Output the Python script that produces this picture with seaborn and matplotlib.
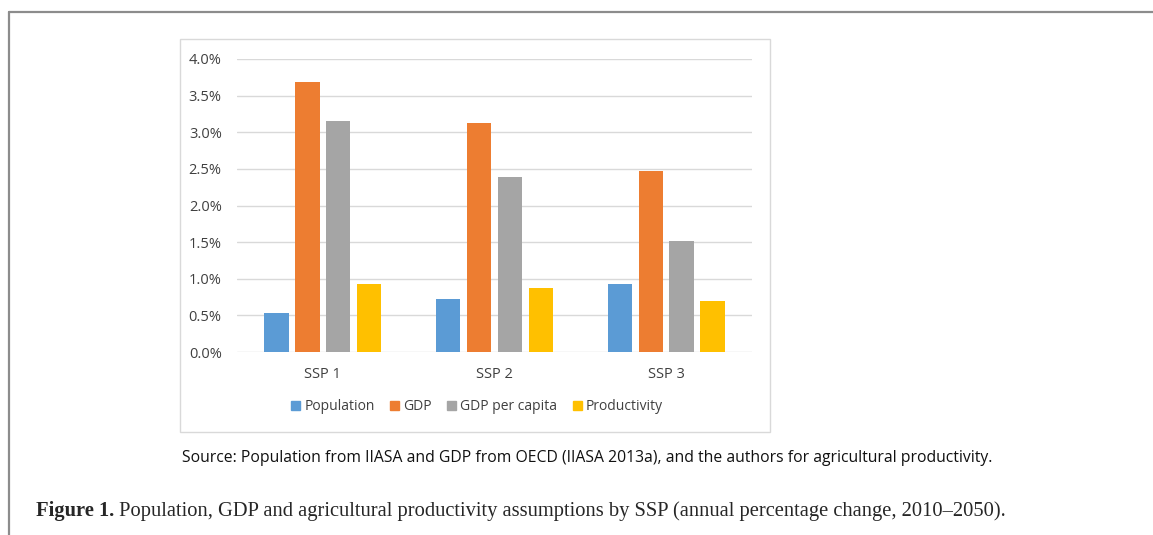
import pandas as pd
import numpy as np
from matplotlib import pyplot as plt
from matplotlib.patches import Rectangle
from matplotlib.lines import Line2D
from matplotlib.ticker import PercentFormatter
import seaborn as sns

scenarios = ['SSP 1', 'SSP 2', 'SSP 3']
series = ['Population', 'GDP', 'GDP per capita', 'Productivity']
population = [0.53, 0.73, 0.93]
gdp = [3.69, 3.13, 2.47]
gdp_per_capita = [3.16, 2.39, 1.52]
productivity = [0.93, 0.875, 0.69]
colors = ['#5B9BD5', '#ED7D31', '#A5A5A5', '#FFC000']

source_txt = ('Source: Population from IIASA and GDP from OECD (IIASA 2013a), '
              'and the authors for agricultural productivity.')
caption_bold = 'Figure 1.'
caption_txt = (' Population, GDP and agricultural productivity assumptions by SSP '
               '(annual percentage change, 2010\u20132050).')

if __name__ == '__main__':
    df = pd.DataFrame({'scenario': scenarios, 'Population': population,
                       'GDP': gdp, 'GDP per capita': gdp_per_capita,
                       'Productivity': productivity})
    df = df.melt(id_vars='scenario', var_name='series', value_name='value')

    sns.set_style('white')
    plt.rcParams['font.family'] = ['Open Sans', 'DejaVu Sans']

    W, H = 1153, 535
    f = plt.figure(figsize=(W / 100, H / 100), dpi=100)

    # outer frame (top and left only)
    f.add_artist(Line2D([9 / W, 9 / W], [0, 1 - 12 / H], color='#8c8c8c',
                        lw=1.6, transform=f.transFigure))
    f.add_artist(Line2D([9 / W, 1], [1 - 12 / H, 1 - 12 / H], color='#8c8c8c',
                        lw=1.6, transform=f.transFigure))
    # chart area box
    f.add_artist(Rectangle((180 / W, 1 - 432 / H), 590 / W, 393 / H,
                           fill=False, ec='#d9d9d9', lw=1.0,
                           transform=f.transFigure))

    ax = f.add_axes([237 / W, 1 - 352 / H, 515 / W, 293 / H])
    sns.barplot(data=df, x='scenario', y='value', hue='series',
                hue_order=series, palette=colors, width=0.72, gap=0.21,
                saturation=1, linewidth=0, ax=ax, legend=False)
    ax.set_ylim(0, 4.0)
    ax.set_yticks(np.arange(0, 4.01, 0.5))
    ax.yaxis.set_major_formatter(PercentFormatter(decimals=1))
    ax.grid(axis='y', color='#d9d9d9', lw=1.0)
    ax.set_axisbelow(True)
    for s in ax.spines.values():
        s.set_visible(False)
    ax.tick_params(axis='both', length=0, labelsize=10.5, colors='#404040')
    ax.tick_params(axis='y', pad=11)
    ax.tick_params(axis='x', pad=11)
    ax.set(xlabel='', ylabel='')

    handles = [Rectangle((0, 0), 1, 1, color=c) for c in colors]
    f.legend(handles, series, loc='center', bbox_to_anchor=(477 / W, 1 - 407 / H),
             ncol=4, frameon=False, fontsize=10, handlelength=0.65,
             handleheight=0.65, handletextpad=0.3, columnspacing=1.1,
             labelcolor='#404040')

    f.text(587 / W, 1 - 458 / H, source_txt, ha='center', va='center',
           fontsize=11.3, color='#111111')

    t1 = f.text(36 / W, 1 - 511 / H, caption_bold, ha='left', va='center',
                fontsize=14.8, fontweight='bold', family='Liberation Serif')
    f.canvas.draw()
    bb = t1.get_window_extent()
    f.text(bb.x1 / W, 1 - 511 / H, caption_txt, ha='left', va='center',
           fontsize=14.8, family='Liberation Serif')

    f.savefig('out.png', dpi=100)
